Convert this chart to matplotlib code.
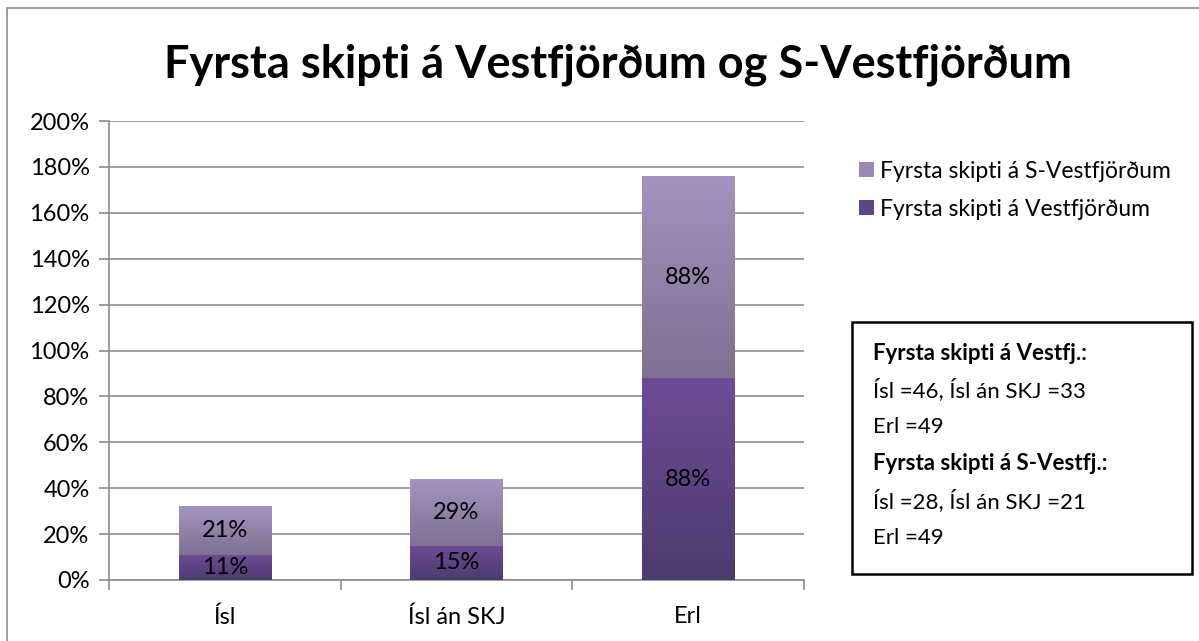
import numpy as np
import matplotlib.pyplot as plt
from matplotlib.patches import Rectangle
from matplotlib.colors import LinearSegmentedColormap

plt.rcParams['font.family'] = ['Lato', 'DejaVu Sans']

# data
categories = ['Ísl', 'Ísl án SKJ', 'Erl']
vestfj = [11, 15, 88]      # Fyrsta skipti á Vestfjörðum
s_vestfj = [21, 29, 88]    # Fyrsta skipti á S-Vestfjörðum
lbl_vest = ['11%', '15%', '88%']
lbl_svest = ['21%', '29%', '88%']
yticks = list(range(0, 201, 20))

box_lines = [('Fyrsta skipti á Vestfj.:', 'bold'),
             ('Ísl =46, Ísl án SKJ =33', 'normal'),
             ('Erl =49', 'normal'),
             ('Fyrsta skipti á S-Vestfj.:', 'bold'),
             ('Ísl =28, Ísl án SKJ =21', 'normal'),
             ('Erl =49', 'normal')]

W, H = 1199, 641
fig = plt.figure(figsize=(W / 100, H / 100), dpi=100)
fig.patch.set_facecolor('white')

# outer chart border (only top/left edges inside the picture)
fig.add_artist(Rectangle((7 / W, -0.05), 1.2, 1 - 8 / H + 0.05, transform=fig.transFigure,
                         fill=False, edgecolor='#8c8c8c', linewidth=1.2))

ax = fig.add_axes([109 / W, 1 - 580 / H, 695 / W, 459 / H])
x = np.arange(len(categories))
bw = 0.4

bars1 = ax.bar(x, vestfj, bw, color='#5f4585', label='Fyrsta skipti á Vestfjörðum', zorder=3)
bars2 = ax.bar(x, s_vestfj, bw, bottom=vestfj, color='#9a88b5',
               label='Fyrsta skipti á S-Vestfjörðum', zorder=3)

# vertical gradients inside bars
cm_low = LinearSegmentedColormap.from_list('low', ['#4e3a6e', '#6d4c96'])
cm_up = LinearSegmentedColormap.from_list('up', ['#7e7191', '#a493c0'])
grad = np.linspace(0, 1, 256).reshape(-1, 1)
for bars, cm in ((bars1, cm_low), (bars2, cm_up)):
    for b in bars:
        x0, y0 = b.get_x(), b.get_y()
        ax.imshow(grad, cmap=cm, origin='lower', aspect='auto', zorder=3.5,
                  extent=[x0, x0 + b.get_width(), y0, y0 + b.get_height()])
        b.set_facecolor('none')

for i in range(len(categories)):
    ax.text(x[i], vestfj[i] / 2, lbl_vest[i], ha='center', va='center', fontsize=17, zorder=5)
    ax.text(x[i], vestfj[i] + s_vestfj[i] / 2, lbl_svest[i], ha='center', va='center',
            fontsize=17, zorder=5)

ax.set_xlim(-0.5, 2.5)
ax.set_ylim(0, 200)
ax.set_yticks(yticks)
ax.set_yticklabels([f'{v}%' for v in yticks], fontsize=17)
ax.set_xticks(x)
ax.set_xticklabels(categories, fontsize=17)
ax.set_xticks([-0.5, 0.5, 1.5, 2.5], minor=True)
ax.tick_params(axis='x', which='major', length=0, pad=19)
ax.tick_params(axis='x', which='minor', length=7, color='#8c8c8c', width=1.2)
ax.tick_params(axis='y', length=7, color='#8c8c8c', width=1.2, pad=7)
ax.yaxis.grid(True, color='#8c8c8c', linewidth=1.2, zorder=0)
ax.set_axisbelow(True)
for s in ['top', 'right']:
    ax.spines[s].set_visible(False)
for s in ['left', 'bottom']:
    ax.spines[s].set_color('#8c8c8c')
    ax.spines[s].set_linewidth(1.2)

fig.text(0.515, 1 - 77 / H, 'Fyrsta skipti á Vestfjörðum og S-Vestfjörðum',
         ha='center', va='baseline', fontsize=32.5, fontweight='bold')

h, l = ax.get_legend_handles_labels()
leg = fig.legend(h[::-1], l[::-1], loc='upper left', bbox_to_anchor=(838 / W, 1 - 140 / H),
                 frameon=False, fontsize=16.5, handlelength=0.65, handleheight=0.65,
                 handletextpad=0.3, labelspacing=0.75)
leg.legend_handles[0].set_facecolor('#9a88b5')
leg.legend_handles[1].set_facecolor('#5f4585')

fig.add_artist(Rectangle((852 / W, 1 - 574 / H), 340 / W, 252 / H, transform=fig.transFigure,
                         fill=False, edgecolor='black', linewidth=1.8))
for k, (t, wgt) in enumerate(box_lines):
    fig.text(873 / W, 1 - (353 + 37 * k) / H, t, ha='left', va='center', fontsize=16,
             fontweight=wgt)

fig.savefig('out.png', dpi=100)
